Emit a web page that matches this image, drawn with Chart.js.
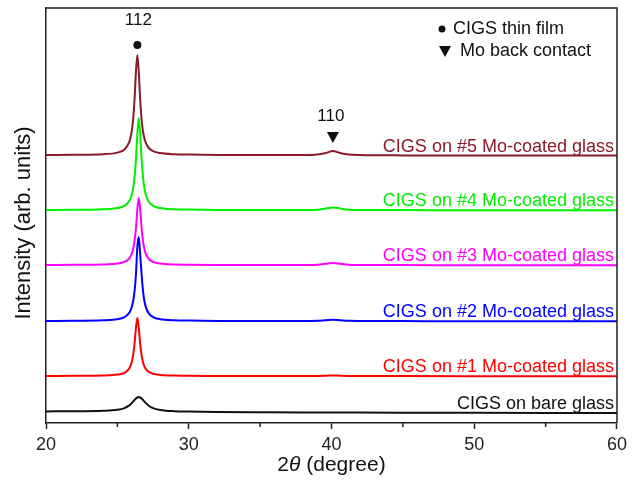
<!DOCTYPE html>
<html>
<head>
<meta charset="utf-8">
<script src="https://cdn.jsdelivr.net/npm/chart.js@4.4.1/dist/chart.umd.min.js"></script>
<style>
  html, body { margin: 0; padding: 0; background: #fff; }
  canvas { display: block; }
</style>
</head>
<body>
<canvas id="xrd" width="632" height="482"></canvas>
<script>
// 2theta positions (degree)
const twoTheta = [20, 22, 24, 25, 25.5, 25.8, 25.9, 26.0, 26.1, 26.2, 26.3, 26.4, 26.5, 26.6, 26.7, 26.8, 26.9, 27.0,
  27.2, 27.5, 28, 29, 30, 32, 35, 38, 39, 39.6, 40.1, 40.6, 41.2, 42, 45, 50, 55, 60]

// stacked intensities (arb. units)
const bareGlass = [11.6, 11.8, 12.2, 13.2, 14.9, 17.3, 18.3, 19.9, 21.4, 23, 24.5, 25.5, 26, 25.5, 24.5, 23, 21.4, 19.9,
  17.3, 14.9, 13.1, 11.8, 11.4, 11, 10.7, 10.5, 10.5, 10.5, 10.5, 10.5, 10.5, 10.4, 10.3, 10.2, 10.1, 10]
const moGlass1 = [47, 47.2, 47.5, 48.4, 50.2, 53.8, 56.4, 60.5, 67.3, 78.8, 95.1, 105, 95.1, 78.8, 67.3, 60.5, 56.4, 53.8,
  51.1, 49.2, 48.1, 47.4, 47.2, 47.1, 47, 47, 47.1, 47.3, 47.5, 47.3, 47.1, 47, 46.9, 46.8, 46.8, 46.8]
const moGlass2 = [102, 102.2, 102.7, 103.8, 105.9, 109.6, 112, 115.6, 121.5, 131.4, 148, 176, 186, 168, 148, 131.4, 121.5, 115.6,
  109.6, 105.9, 103.8, 102.7, 102.4, 102.1, 102, 102, 102.2, 102.8, 103.3, 102.8, 102.2, 102, 101.9, 101.8, 101.8, 101.8]
const moGlass3 = [158, 158.2, 158.5, 159.4, 161.1, 164, 165.9, 168.9, 173.5, 181.5, 194.7, 213.5, 225, 213.5, 194.7, 181.5, 173.5, 168.9,
  164, 161.1, 159.4, 158.5, 158.3, 158.1, 158, 158, 158.3, 159.2, 160, 159.2, 158.3, 158, 157.9, 157.8, 157.8, 157.8]
const moGlass4 = [213, 213.2, 213.7, 214.9, 217.2, 221.3, 223.9, 227.9, 234.3, 245.2, 263.4, 289.3, 305, 289.3, 263.4, 245.2, 234.3, 227.9,
  221.3, 217.2, 214.9, 213.7, 213.4, 213.1, 213, 213, 213.3, 214.5, 215.5, 214.5, 213.3, 213, 212.9, 212.8, 212.8, 212.8]
const moGlass5 = [268, 268.3, 268.8, 270.4, 273.6, 279.8, 284.2, 291.2, 303, 322.8, 350.9, 368, 350.9, 322.8, 303, 291.2, 284.2, 279.8,
  275, 271.8, 269.9, 268.7, 268.4, 268.1, 268, 268, 268.5, 270, 272, 270, 268.5, 268, 267.6, 267.5, 267.5, 267.5]

const sampleNames = ['CIGS on bare glass', 'CIGS on #1 Mo-coated glass', 'CIGS on #2 Mo-coated glass',
  'CIGS on #3 Mo-coated glass', 'CIGS on #4 Mo-coated glass', 'CIGS on #5 Mo-coated glass']
const sampleSeries = [bareGlass, moGlass1, moGlass2, moGlass3, moGlass4, moGlass5]
const sampleColors = ['#111111', '#FF0000', '#0000FF', '#FF00FF', '#00F000', '#8B1A2B']

const xTicks = [20, 30, 40, 50, 60]
const minorTicks = [25, 35, 45, 55]
const cigsPeak = { label: '112', at: 26.4 }
const moPeak = { label: '110', at: 40.1 }

const FONT = '"Liberation Sans", Arial, sans-serif'

const decorations = {
  id: 'decorations',
  afterDraw(chart) {
    const { ctx, chartArea: a, scales: { x, y } } = chart
    ctx.save()

    // top and right frame
    ctx.strokeStyle = '#222'
    ctx.lineWidth = 1.5
    ctx.beginPath()
    ctx.moveTo(a.left, a.top)
    ctx.lineTo(a.right, a.top)
    ctx.lineTo(a.right, a.bottom)
    ctx.stroke()

    // minor ticks
    ctx.beginPath()
    minorTicks.forEach(v => {
      const px = x.getPixelForValue(v)
      ctx.moveTo(px, a.bottom)
      ctx.lineTo(px, a.bottom + 4)
    })
    ctx.stroke()

    // sample labels above each trace
    ctx.font = '18px ' + FONT
    ctx.textAlign = 'right'
    ctx.textBaseline = 'alphabetic'
    chart.data.datasets.forEach(ds => {
      const last = ds.data[ds.data.length - 1]
      ctx.fillStyle = ds.borderColor
      ctx.fillText(ds.label, a.right - 3, y.getPixelForValue(last) - 4)
    })

    // peak markers on the top trace
    ctx.fillStyle = '#111'
    ctx.textAlign = 'center'
    ctx.textBaseline = 'middle'
    const i112 = twoTheta.indexOf(cigsPeak.at)
    const px112 = x.getPixelForValue(cigsPeak.at)
    const py112 = y.getPixelForValue(moGlass5[i112])
    ctx.beginPath()
    ctx.arc(px112, py112 - 10, 4, 0, Math.PI * 2)
    ctx.fill()
    ctx.font = '17px ' + FONT
    ctx.fillText(cigsPeak.label, px112 + 1, py112 - 35)

    const i110 = twoTheta.indexOf(moPeak.at)
    const px110 = x.getPixelForValue(moPeak.at)
    const py110 = y.getPixelForValue(moGlass5[i110])
    triangle(ctx, px110, py110 - 14)
    ctx.fillText(moPeak.label, px110 - 2, py110 - 35)

    // symbol key, top right
    ctx.textAlign = 'left'
    ctx.font = '18px ' + FONT
    ctx.beginPath()
    ctx.arc(442, 29, 3.5, 0, Math.PI * 2)
    ctx.fill()
    ctx.fillText('CIGS thin film', 453, 29)
    triangle(ctx, 445, 51)
    ctx.fillText('Mo back contact', 460, 51)

    // y title
    ctx.save()
    ctx.translate(24, 223)
    ctx.rotate(-Math.PI / 2)
    ctx.textAlign = 'center'
    ctx.font = '22px ' + FONT
    ctx.fillText('Intensity (arb. units)', 0, 0)
    ctx.restore()

    // x title: 2θ (degree) with italic theta
    const parts = [['2', '21px ' + FONT], ['θ', 'italic 21px ' + FONT], [' (degree)', '21px ' + FONT]]
    let total = 0
    parts.forEach(p => { ctx.font = p[1]; total += ctx.measureText(p[0]).width })
    let cx = (a.left + a.right) / 2 - total / 2
    ctx.textAlign = 'left'
    parts.forEach(p => {
      ctx.font = p[1]
      ctx.fillText(p[0], cx, 465)
      cx += ctx.measureText(p[0]).width
    })

    ctx.restore()
  }
}

function triangle(ctx, cx, cy) {
  ctx.beginPath()
  ctx.moveTo(cx - 6, cy - 5)
  ctx.lineTo(cx + 6, cy - 5)
  ctx.lineTo(cx, cy + 6)
  ctx.closePath()
  ctx.fill()
}

new Chart(document.getElementById('xrd'), {
  type: 'line',
  data: {
    datasets: sampleSeries.map((vals, i) => ({
      label: sampleNames[i],
      data: vals,
      borderColor: sampleColors[i],
      borderWidth: 2,
      pointRadius: 0,
      fill: false,
      cubicInterpolationMode: 'monotone'
    })),
    labels: twoTheta
  },
  options: {
    responsive: false,
    animation: false,
    parsing: true,
    layout: { padding: { left: 0, top: 8, right: 12, bottom: 0 } },
    plugins: {
      legend: { display: false },
      tooltip: { enabled: false }
    },
    scales: {
      x: {
        type: 'linear',
        min: 20,
        max: 60,
        afterFit: s => { s.height = 59 },
        afterBuildTicks: s => { s.ticks = xTicks.map(v => ({ value: v })) },
        ticks: {
          color: '#222',
          font: { family: FONT, size: 18 },
          padding: 5,
          maxRotation: 0
        },
        grid: {
          drawOnChartArea: false,
          drawTicks: true,
          tickLength: 6,
          tickColor: '#222',
          tickWidth: 1.5
        },
        border: { color: '#222', width: 1.5 }
      },
      y: {
        min: 0,
        max: 415,
        afterFit: s => { s.width = 46 },
        ticks: { display: false },
        grid: { drawOnChartArea: false, drawTicks: false },
        border: { color: '#222', width: 1.5 }
      }
    }
  },
  plugins: [decorations]
})
</script>
</body>
</html>
